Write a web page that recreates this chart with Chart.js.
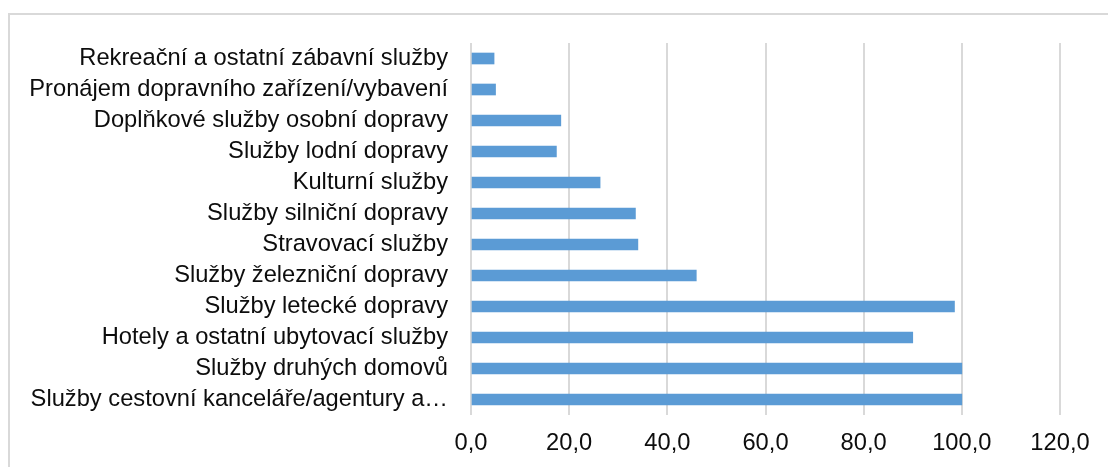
<!DOCTYPE html>
<html>
<head>
<meta charset="utf-8">
<script src="https://cdn.jsdelivr.net/npm/chart.js@4"></script>
<style>
  html, body { margin: 0; padding: 0; width: 1108px; height: 467px; overflow: hidden; background: #ffffff; }
  #frame { position: absolute; left: 8px; top: 13px; width: 1200px; height: 600px; border: 2px solid #d9d9d9; box-sizing: border-box; }
  #c { position: absolute; left: 0; top: 0; }
</style>
</head>
<body>
<div id="frame"></div>
<canvas id="c" width="1108" height="467"></canvas>
<script>
const categories = [
  "Rekreační a ostatní zábavní služby",
  "Pronájem dopravního zařízení/vybavení",
  "Doplňkové služby osobní dopravy",
  "Služby lodní dopravy",
  "Kulturní služby",
  "Služby silniční dopravy",
  "Stravovací služby",
  "Služby železniční dopravy",
  "Služby letecké dopravy",
  "Hotely a ostatní ubytovací služby",
  "Služby druhých domovů",
  "Služby cestovní kanceláře/agentury a…"
];
const values = [4.7, 5.0, 18.3, 17.4, 26.3, 33.5, 34.0, 45.9, 98.5, 90.0, 100.0, 100.0];
const xTickMin = 0;
const xTickMax = 120;
const xTickStep = 20;

const FONT = "'Liberation Sans', Arial, sans-serif";
const TEXT = "#0d0d0d";

new Chart(document.getElementById("c"), {
  type: "bar",
  data: {
    labels: categories,
    datasets: [{
      data: values,
      backgroundColor: "#5b9bd5",
      borderWidth: 0,
      barThickness: 11
    }]
  },
  options: {
    indexAxis: "y",
    responsive: false,
    animation: false,
    layout: { padding: { top: 43, right: 48, bottom: 0, left: 0 } },
    plugins: { legend: { display: false }, tooltip: { enabled: false } },
    scales: {
      x: {
        min: xTickMin,
        max: xTickMax,
        grid: { color: "#d9d9d9", lineWidth: 2, drawTicks: false },
        border: { display: false },
        ticks: {
          stepSize: xTickStep,
          padding: 14,
          color: TEXT,
          font: { family: FONT, size: 23.7 },
          callback: (v) => Number(v).toFixed(1).replace(".", ",")
        },
        afterFit: (s) => { s.height = 52; }
      },
      y: {
        grid: { display: false, drawTicks: false },
        border: { display: false },
        ticks: {
          padding: 23,
          color: TEXT,
          autoSkip: false,
          font: { family: FONT, size: 23.7 }
        },
        afterFit: (s) => { s.width = 471; }
      }
    }
  }
});
</script>
</body>
</html>
